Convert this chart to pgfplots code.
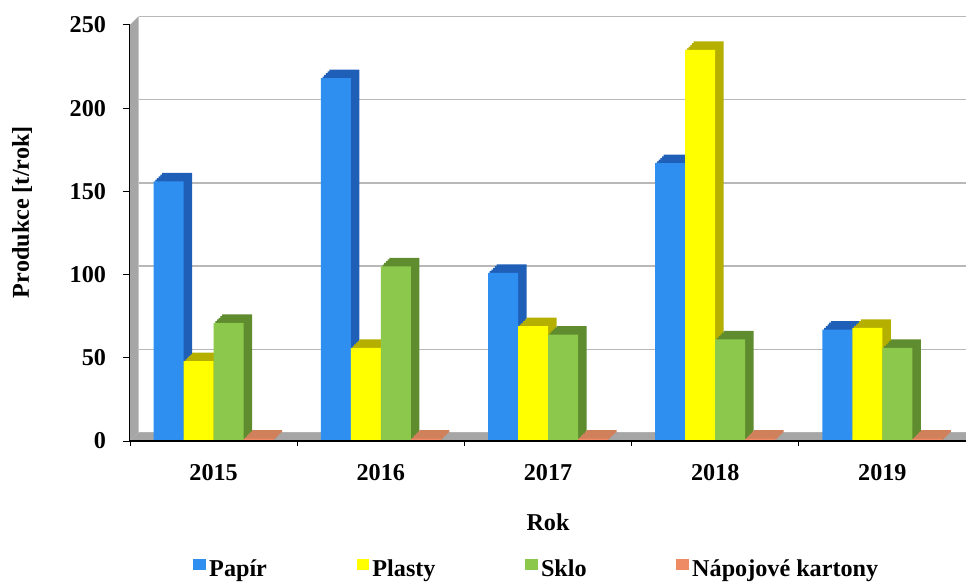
\documentclass[border=0pt]{standalone}
\usepackage{fontspec}
\setmainfont{Liberation Serif}
\usepackage{pgfplots}
\pgfplotsset{compat=1.18}
\usepackage{pgfplotstable}

% front faces and shaded (top/side) faces of the columns
\definecolor{papirF}{HTML}{2E8FF0}
\definecolor{papirD}{HTML}{1F5FB8}
\definecolor{plastyF}{HTML}{FFFF00}
\definecolor{plastyD}{HTML}{B5AF00}
\definecolor{skloF}{HTML}{8CC84B}
\definecolor{skloD}{HTML}{5E8C2E}
\definecolor{kartonyF}{HTML}{EE8A64}
\definecolor{kartonyD}{HTML}{D0805A}
\definecolor{wallgray}{HTML}{A6A6A6}
\definecolor{gridgray}{HTML}{B8B8B8}

\pgfplotstableread{
x papir plasty sklo kartony
0 156  48  71  1.5
1 218  56 105  1.5
2 101  69  64  1.5
3 167 235  61  1.5
4  67  68  56  1.5
}\produkce

\newcommand{\depth}{5.1pt}
\newcommand{\lblfont}{\bfseries\fontsize{14.5}{17}\selectfont}

% one series as 3D columns: shaded copies stepping back in depth, then the front face
\newcommand{\columns}[4]{% #1 column, #2 front colour, #3 shade colour, #4 bar shift
  \pgfplotsinvokeforeach{5,4,3,2,1}{%
    \addplot[ybar, bar width=18pt, bar shift=#4, fill=#3, draw=none, forget plot,
      xshift=##1*1.02pt, yshift=##1*1.02pt] table[x=x, y=#1] {\produkce};
  }
  \addplot[ybar, bar width=18pt, bar shift=#4, fill=#2, draw=none] table[x=x, y=#1] {\produkce};
}

\begin{document}
\begin{tikzpicture}
\begin{axis}[
  scale only axis,
  width=501.6pt, height=249.6pt,
  xmin=-0.5, xmax=4.5,
  ymin=0, ymax=250,
  clip=false,
  axis lines*=left,
  axis line style={black, line width=0.8pt},
  xtick={0,1,2,3,4},
  xticklabels={2015,2016,2017,2018,2019},
  minor xtick={-0.5,0.5,1.5,2.5,3.5,4.5},
  ytick={0,50,100,150,200,250},
  tick align=outside,
  major tick length=4.2pt,
  minor tick length=3pt,
  major x tick style={draw=none},
  tick style={black, line width=0.6pt},
  ymajorgrids,
  major grid style={gridgray, line width=0.9pt, xshift=\depth, yshift=\depth},
  /pgf/number format/assume math mode=true,
  tick label style={font=\lblfont},
  yticklabel style={anchor=east, inner sep=0pt, xshift=-10pt},
  xticklabel style={anchor=north, inner sep=0pt, yshift=-9.6pt},
  ylabel={Produkce [t/rok]},
  xlabel={Rok},
  every axis y label/.style={at={(axis description cs:-0.1292,0.55)}, rotate=90, anchor=center, font=\lblfont},
  every axis x label/.style={at={(axis description cs:0.5,-0.1947)}, anchor=center, font=\lblfont},
  legend columns=4,
  legend style={at={(0.4874,-0.3077)}, anchor=center, draw=none, fill=none,
    font=\lblfont, inner sep=0pt,
    /tikz/every even column/.append style={column sep=51.8pt}},
  legend image code/.code={\fill[#1] (0pt,-0.5pt) rectangle (7.5pt,6pt);},
]
% floor and side wall of the 3D frame
\fill[wallgray] (axis cs:-0.5,0) -- (axis cs:4.5,0)
  -- ([xshift=\depth,yshift=\depth]axis cs:4.5,0)
  -- ([xshift=\depth,yshift=\depth]axis cs:-0.5,0) -- cycle;
\fill[wallgray] (axis cs:-0.5,0) -- ([xshift=\depth,yshift=\depth]axis cs:-0.5,0)
  -- ([xshift=\depth,yshift=\depth]axis cs:-0.5,250) -- (axis cs:-0.5,250) -- cycle;

\columns{papir}{papirF}{papirD}{-27pt}
\columns{plasty}{plastyF}{plastyD}{-9pt}
\columns{sklo}{skloF}{skloD}{9pt}
\columns{kartony}{kartonyF}{kartonyD}{27pt}

\draw[black, line width=0.8pt] (axis cs:-0.5,0) -- (axis cs:4.5,0);
\legend{Papír, Plasty, Sklo, Nápojové kartony}
\end{axis}
\pgfresetboundingbox
\path[use as bounding box] (-78pt,-85.8pt) rectangle (501.6pt,264.6pt);
\end{tikzpicture}
\end{document}
